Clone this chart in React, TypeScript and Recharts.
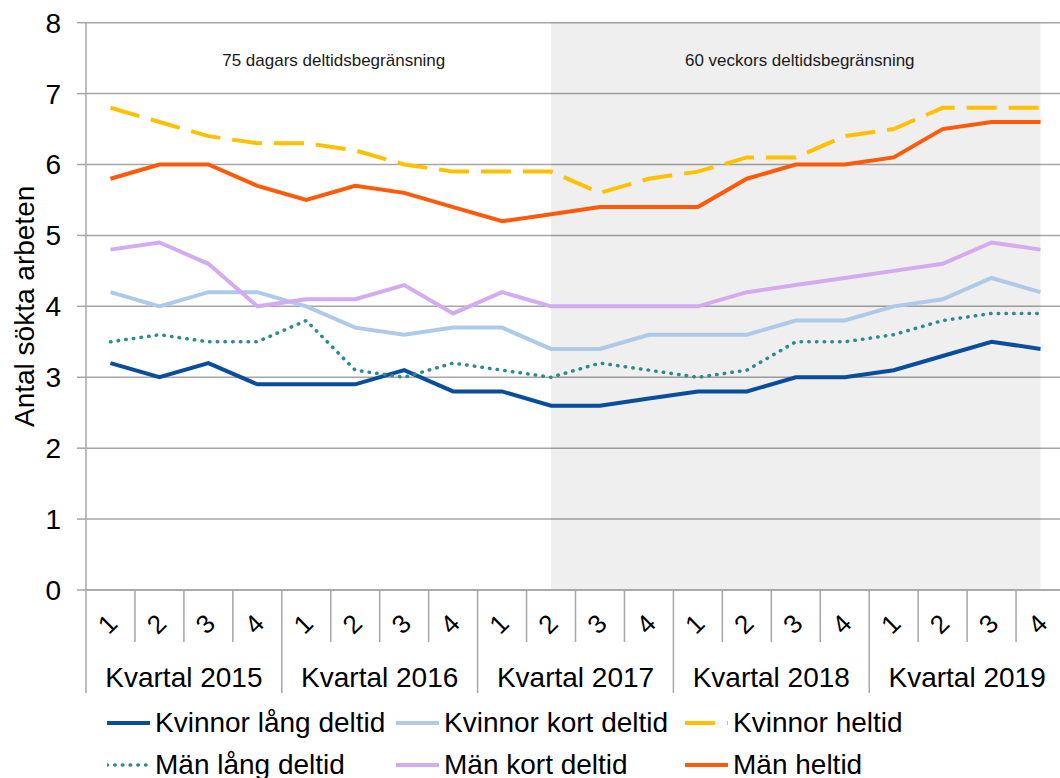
import React from "react";
import {
  CartesianGrid,
  Line,
  LineChart,
  ReferenceArea,
  XAxis,
  YAxis,
} from "recharts";

const FONT = '"Liberation Sans", Arial, sans-serif';

const YEARS = ["2015", "2016", "2017", "2018", "2019"];
const QUARTERS = ["1", "2", "3", "4"];
const Y_TICKS = [0, 1, 2, 3, 4, 5, 6, 7, 8];
const Y_TITLE = "Antal sökta arbeten";
const PERIOD_LABELS = ["75 dagars deltidsbegränsning", "60 veckors deltidsbegränsning"];

const kvinnorLang = [3.2, 3.0, 3.2, 2.9, 2.9, 2.9, 3.1, 2.8, 2.8, 2.6, 2.6, 2.7, 2.8, 2.8, 3.0, 3.0, 3.1, 3.3, 3.5, 3.4];
const kvinnorKort = [4.2, 4.0, 4.2, 4.2, 4.0, 3.7, 3.6, 3.7, 3.7, 3.4, 3.4, 3.6, 3.6, 3.6, 3.8, 3.8, 4.0, 4.1, 4.4, 4.2];
const kvinnorHeltid = [6.8, 6.6, 6.4, 6.3, 6.3, 6.2, 6.0, 5.9, 5.9, 5.9, 5.6, 5.8, 5.9, 6.1, 6.1, 6.4, 6.5, 6.8, 6.8, 6.8];
const manLang = [3.5, 3.6, 3.5, 3.5, 3.8, 3.1, 3.0, 3.2, 3.1, 3.0, 3.2, 3.1, 3.0, 3.1, 3.5, 3.5, 3.6, 3.8, 3.9, 3.9];
const manKort = [4.8, 4.9, 4.6, 4.0, 4.1, 4.1, 4.3, 3.9, 4.2, 4.0, 4.0, 4.0, 4.0, 4.2, 4.3, 4.4, 4.5, 4.6, 4.9, 4.8];
const manHeltid = [5.8, 6.0, 6.0, 5.7, 5.5, 5.7, 5.6, 5.4, 5.2, 5.3, 5.4, 5.4, 5.4, 5.8, 6.0, 6.0, 6.1, 6.5, 6.6, 6.6];

// legend order: row by row, three per row
const SERIES = [
  { key: "kvinnorLang", name: "Kvinnor lång deltid", values: kvinnorLang, color: "#0a4d9c", width: 4 },
  { key: "kvinnorKort", name: "Kvinnor kort deltid", values: kvinnorKort, color: "#aecae9", width: 4 },
  { key: "kvinnorHeltid", name: "Kvinnor heltid", values: kvinnorHeltid, color: "#ffc000", width: 4, dash: "30 12" },
  { key: "manLang", name: "Män lång deltid", values: manLang, color: "#2b8c8c", width: 3.5, dash: "0.5 7.2", cap: "round" as const },
  { key: "manKort", name: "Män kort deltid", values: manKort, color: "#d4abef", width: 4 },
  { key: "manHeltid", name: "Män heltid", values: manHeltid, color: "#ff590a", width: 4 },
];

const data = YEARS.flatMap((year, yi) =>
  QUARTERS.map((q, qi) => {
    const i = yi * QUARTERS.length + qi;
    const row: Record<string, string | number> = { label: `${year}-${q}`, year, quarter: q };
    SERIES.forEach((s) => {
      row[s.key] = s.values[i];
    });
    return row;
  })
);

const CHART_W = 1080;
const CHART_H = 778;
const PLOT_LEFT = 86;
const RIGHT_MARGIN = 15;
const BAND = (CHART_W - PLOT_LEFT - RIGHT_MARGIN) / data.length;
const GRID = "#a6a6a6";

function QuarterTick(props: any) {
  const { x, y, index } = props;
  const row = data[index];
  if (!row) return null;
  const half = BAND / 2;
  const isYearEnd = row.quarter === QUARTERS[QUARTERS.length - 1];
  return (
    <g>
      {index === 0 && (
        <line x1={x - half} x2={x - half} y1={y} y2={y + 103} stroke={GRID} strokeWidth={1.5} />
      )}
      <line
        x1={x + half}
        x2={x + half}
        y1={y}
        y2={y + (isYearEnd ? 103 : 52)}
        stroke={GRID}
        strokeWidth={1.5}
      />
      <text
        x={x - 3}
        y={y + 34}
        transform={`rotate(-45 ${x - 3} ${y + 34})`}
        textAnchor="middle"
        dominantBaseline="central"
        fontSize={26}
        fontFamily={FONT}
        fill="#000"
      >
        {row.quarter}
      </text>
      {row.quarter === "2" && (
        <text
          x={x + half}
          y={y + 87}
          textAnchor="middle"
          dominantBaseline="central"
          fontSize={28}
          fontFamily={FONT}
          fill="#000"
        >
          {`Kvartal ${row.year}`}
        </text>
      )}
    </g>
  );
}

function YTitle(props: any) {
  const vb = props.viewBox || { x: 0, y: 0, width: 0, height: 0 };
  const cx = vb.x + 25;
  const cy = vb.y + vb.height / 2;
  return (
    <text
      x={cx}
      y={cy}
      transform={`rotate(-90 ${cx} ${cy})`}
      textAnchor="middle"
      dominantBaseline="central"
      fontSize={28}
      fontFamily={FONT}
      fill="#000"
    >
      {Y_TITLE}
    </text>
  );
}

function ChartLegend() {
  return (
    <div
      style={{
        position: "absolute",
        left: 0,
        top: 702,
        width: 1060,
        height: 84,
        fontFamily: FONT,
        fontSize: 28,
        color: "#000",
      }}
    >
      {SERIES.map((s, i) => (
        <div
          key={s.key}
          style={{
            position: "absolute",
            left: 107 + (i % 3) * 289,
            top: Math.floor(i / 3) * 42,
            height: 42,
            display: "flex",
            alignItems: "center",
            whiteSpace: "nowrap",
          }}
        >
          <svg width={48} height={10} style={{ display: "block" }}>
            <line
              x1={0}
              x2={43}
              y1={5}
              y2={5}
              stroke={s.color}
              strokeWidth={s.width}
              strokeDasharray={s.dash}
              strokeLinecap={s.cap}
            />
          </svg>
          <span>{s.name}</span>
        </div>
      ))}
    </div>
  );
}

export default function App() {
  const first = data[0].label as string;
  const split = data[9].label as string;
  const last = data[data.length - 1].label as string;
  return (
    <div
      style={{
        position: "absolute",
        left: 0,
        top: 0,
        width: 1060,
        height: 778,
        overflow: "hidden",
        background: "#fff",
      }}
    >
      <LineChart
        width={CHART_W}
        height={CHART_H}
        data={data}
        margin={{ top: 22.7, right: RIGHT_MARGIN, bottom: 78, left: 0 }}
      >
        <CartesianGrid vertical={false} stroke={GRID} strokeWidth={1.5} />
        <ReferenceArea
          x1={split}
          x2={last}
          y1={0}
          y2={8}
          fill="#000"
          fillOpacity={0.063}
          stroke="none"
          label={{
            value: PERIOD_LABELS[1],
            position: "insideTop",
            offset: 31,
            fontSize: 17,
            fontFamily: FONT,
            fill: "#1a1a1a",
            dx: 4,
          }}
        />
        <ReferenceArea
          x1={first}
          x2={split}
          y1={0}
          y2={8}
          fill="none"
          stroke="none"
          label={{
            value: PERIOD_LABELS[0],
            position: "insideTop",
            offset: 31,
            fontSize: 17,
            fontFamily: FONT,
            fill: "#1a1a1a",
            dx: 3,
          }}
        />
        <XAxis
          dataKey="label"
          interval={0}
          height={110}
          padding={{ left: BAND / 2, right: BAND / 2 }}
          tickLine={false}
          tickSize={0}
          tickMargin={0}
          axisLine={{ stroke: GRID, strokeWidth: 1.5 }}
          tick={<QuarterTick />}
        />
        <YAxis
          domain={[0, 8]}
          ticks={Y_TICKS}
          width={PLOT_LEFT}
          tickSize={9}
          tickMargin={16}
          axisLine={{ stroke: GRID, strokeWidth: 1.5 }}
          tickLine={{ stroke: GRID, strokeWidth: 1.5 }}
          tick={{ fontSize: 28, fontFamily: FONT, fill: "#000" }}
          label={<YTitle />}
        />
        {SERIES.map((s) => (
          <Line
            key={s.key}
            dataKey={s.key}
            name={s.name}
            type="linear"
            stroke={s.color}
            strokeWidth={s.width}
            strokeDasharray={s.dash}
            strokeLinecap={s.cap}
            dot={false}
            activeDot={false}
            isAnimationActive={false}
          />
        ))}
      </LineChart>
      <ChartLegend />
    </div>
  );
}
